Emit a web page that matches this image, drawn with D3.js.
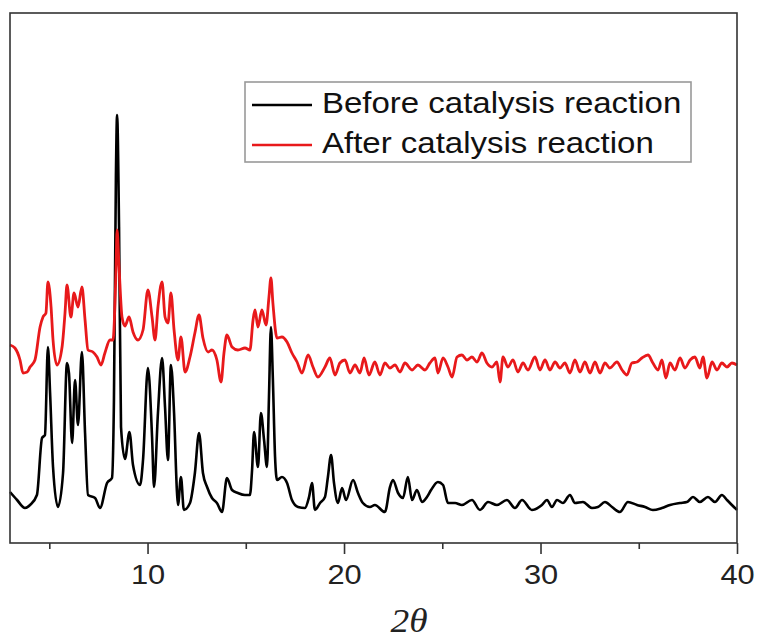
<!DOCTYPE html>
<html>
<head>
<meta charset="utf-8">
<script src="https://cdn.jsdelivr.net/npm/d3@7"></script>
<style>
  html, body { margin: 0; padding: 0; background: #fff; }
  svg { display: block; }
</style>
</head>
<body>
<svg id="chart" width="757" height="639"></svg>
<script>
// ---- Data (2θ in degrees, intensity in arbitrary units) ----
const seriesNames = ["Before catalysis reaction", "After catalysis reaction"];
const seriesColors = ["#000000", "#e8191b"];

const beforeTheta = [3.00,3.36,3.76,4.02,4.37,4.63,4.78,4.93,5.04,5.19,5.44,5.70,5.90,6.00,6.16,6.31,6.46,6.66,6.82,6.97,7.33,7.58,7.94,8.19,8.29,8.39,8.45,8.55,8.65,8.85,9.08,9.26,9.62,9.77,10.02,10.23,10.33,10.53,10.74,10.89,11.04,11.19,11.35,11.50,11.55,11.70,11.85,12.16,12.41,12.62,12.82,13.03,13.28,13.53,13.79,14.04,14.30,14.60,14.96,15.21,15.32,15.42,15.62,15.77,15.93,16.08,16.18,16.28,16.38,16.49,16.59,16.84,17.10,17.35,17.66,18.01,18.22,18.37,18.52,18.78,19.03,19.18,19.34,19.49,19.69,19.90,20.10,20.46,20.71,20.96,21.32,21.57,22.08,22.34,22.49,22.75,23.00,23.25,23.46,23.71,23.97,24.22,24.43,24.78,25.04,25.29,25.65,26.00,26.51,26.92,27.33,27.78,28.29,28.70,29.06,29.56,30.07,30.33,30.58,30.84,31.14,31.50,31.75,32.16,32.62,32.92,33.28,33.64,34.04,34.45,34.91,35.32,35.72,36.18,36.59,37.10,37.45,37.76,38.11,38.52,38.88,39.23,39.49,39.74,40.00];
const beforeIntensity = [51,43,35,38,48,105,108,196,150,76,36,70,180,170,100,163,118,191,110,48,45,35,60,65,143,366,428,316,116,84,111,78,58,83,175,106,56,130,185,136,83,178,130,50,38,66,33,40,70,110,70,56,45,40,31,65,53,50,48,48,73,111,76,130,103,76,146,216,163,86,63,66,60,43,36,35,46,60,33,40,46,66,88,60,40,55,43,63,50,40,36,38,31,56,63,50,45,66,43,53,41,46,53,61,58,40,40,38,43,33,41,38,43,35,43,33,38,43,36,43,40,48,40,41,35,36,41,36,31,41,38,36,33,35,38,40,41,46,41,46,41,48,43,38,33];

const afterTheta = [3.00,3.25,3.51,3.66,3.87,4.02,4.27,4.53,4.68,4.83,4.93,5.09,5.19,5.39,5.65,5.80,5.90,6.10,6.26,6.46,6.66,6.82,6.97,7.22,7.43,7.63,7.83,8.09,8.24,8.39,8.45,8.55,8.70,8.85,9.06,9.26,9.51,9.77,10.02,10.23,10.38,10.53,10.74,10.89,11.04,11.19,11.35,11.55,11.70,11.91,12.16,12.41,12.62,12.82,13.08,13.28,13.53,13.74,13.89,14.04,14.30,14.60,14.96,15.21,15.37,15.47,15.62,15.82,16.03,16.18,16.28,16.38,16.59,16.84,17.10,17.35,17.61,17.86,18.17,18.42,18.67,19.03,19.28,19.54,19.79,20.05,20.30,20.56,20.81,21.02,21.27,21.57,21.83,22.08,22.34,22.59,22.85,23.10,23.46,23.76,24.12,24.37,24.63,24.78,25.04,25.29,25.50,25.75,26.00,26.26,26.51,26.77,27.02,27.27,27.53,27.78,27.94,28.09,28.34,28.60,28.85,29.11,29.36,29.72,29.97,30.23,30.48,30.74,30.99,31.24,31.50,31.75,32.01,32.26,32.52,32.77,33.03,33.28,33.53,33.89,34.15,34.40,34.65,34.91,35.16,35.47,35.72,35.98,36.18,36.38,36.59,36.84,37.10,37.35,37.61,37.86,38.11,38.27,38.47,38.73,38.98,39.23,39.49,39.74,40.00];
const afterIntensity = [198,195,183,170,171,176,183,216,226,230,261,236,203,178,196,230,258,226,250,236,256,223,193,191,186,178,190,203,203,270,313,276,226,217,226,211,203,213,253,226,203,236,261,226,220,250,213,183,206,171,186,210,228,205,191,193,183,161,190,208,196,193,195,193,223,233,216,233,218,246,265,240,205,206,201,190,181,170,188,176,166,176,185,168,180,183,170,178,170,185,168,181,168,180,175,178,171,180,173,178,173,180,185,170,185,176,166,186,188,183,186,181,190,180,176,181,161,186,176,183,171,180,173,186,173,183,173,181,175,180,170,183,171,181,170,181,170,180,175,181,173,168,180,181,185,188,180,173,183,165,180,173,185,175,183,186,175,186,165,181,173,180,176,180,178];

const majorTicks = [10, 20, 30, 40];
const minorTicks = [5, 15, 25, 35];
const xLabel = "2θ";

// ---- Layout ----
const svg = d3.select("#chart");
const plotLeft = 10, plotRight = 737, plotTop = 13, plotBottom = 543;

const x = d3.scaleLinear().domain([3, 40]).range([plotLeft, plotRight]);
const y = d3.scaleLinear().domain([0, 530]).range([plotBottom, plotTop]);

const line = d3.line().curve(d3.curveMonotoneX).x(d => x(d[0])).y(d => y(d[1]));

const beforeData = d3.zip(beforeTheta, beforeIntensity);
const afterData = d3.zip(afterTheta, afterIntensity);

// curves (red drawn on top)
svg.append("path").datum(beforeData)
  .attr("d", line).attr("fill", "none")
  .attr("stroke", seriesColors[0]).attr("stroke-width", 2.6)
  .attr("stroke-linejoin", "round");
svg.append("path").datum(afterData)
  .attr("d", line).attr("fill", "none")
  .attr("stroke", seriesColors[1]).attr("stroke-width", 2.8)
  .attr("stroke-linejoin", "round");

// frame
svg.append("rect")
  .attr("x", plotLeft).attr("y", plotTop)
  .attr("width", plotRight - plotLeft).attr("height", plotBottom - plotTop)
  .attr("fill", "none").attr("stroke", "#333").attr("stroke-width", 1.6);

// major ticks with labels
const axMajor = svg.append("g")
  .attr("transform", `translate(0,${plotBottom})`)
  .call(d3.axisBottom(x).tickValues(majorTicks).tickSize(11).tickPadding(10).tickFormat(d3.format("d")));
axMajor.select(".domain").remove();
axMajor.selectAll("line").attr("stroke", "#333").attr("stroke-width", 1.6);
axMajor.selectAll("text")
  .attr("font-family", "Liberation Sans, Arial, sans-serif")
  .attr("font-size", 28).attr("fill", "#222")
  .attr("transform", "scale(1.1,1)");

// minor ticks
const axMinor = svg.append("g")
  .attr("transform", `translate(0,${plotBottom})`)
  .call(d3.axisBottom(x).tickValues(minorTicks).tickSize(6).tickFormat(""));
axMinor.select(".domain").remove();
axMinor.selectAll("line").attr("stroke", "#333").attr("stroke-width", 1.6);

// x axis title
svg.append("text")
  .attr("transform", "translate(409,632) scale(1.1,1)")
  .attr("text-anchor", "middle")
  .attr("font-family", "Liberation Serif, Times New Roman, serif")
  .attr("font-style", "italic")
  .attr("font-size", 34).attr("fill", "#222")
  .text(xLabel);

// legend
const lg = svg.append("g");
lg.append("rect")
  .attr("x", 245).attr("y", 82).attr("width", 446).attr("height", 80)
  .attr("fill", "#fff").attr("stroke", "#999").attr("stroke-width", 1.6);
seriesNames.forEach((name, i) => {
  const yy = 105 + i * 40;
  lg.append("line")
    .attr("x1", 252).attr("x2", 312).attr("y1", yy).attr("y2", yy)
    .attr("stroke", seriesColors[i]).attr("stroke-width", 2.6);
  lg.append("text")
    .attr("transform", `translate(322,${yy + 8}) scale(1.1,1)`)
    .attr("font-family", "Liberation Sans, Arial, sans-serif")
    .attr("font-size", 30).attr("fill", "#111")
    .text(name);
});
</script>
</body>
</html>
